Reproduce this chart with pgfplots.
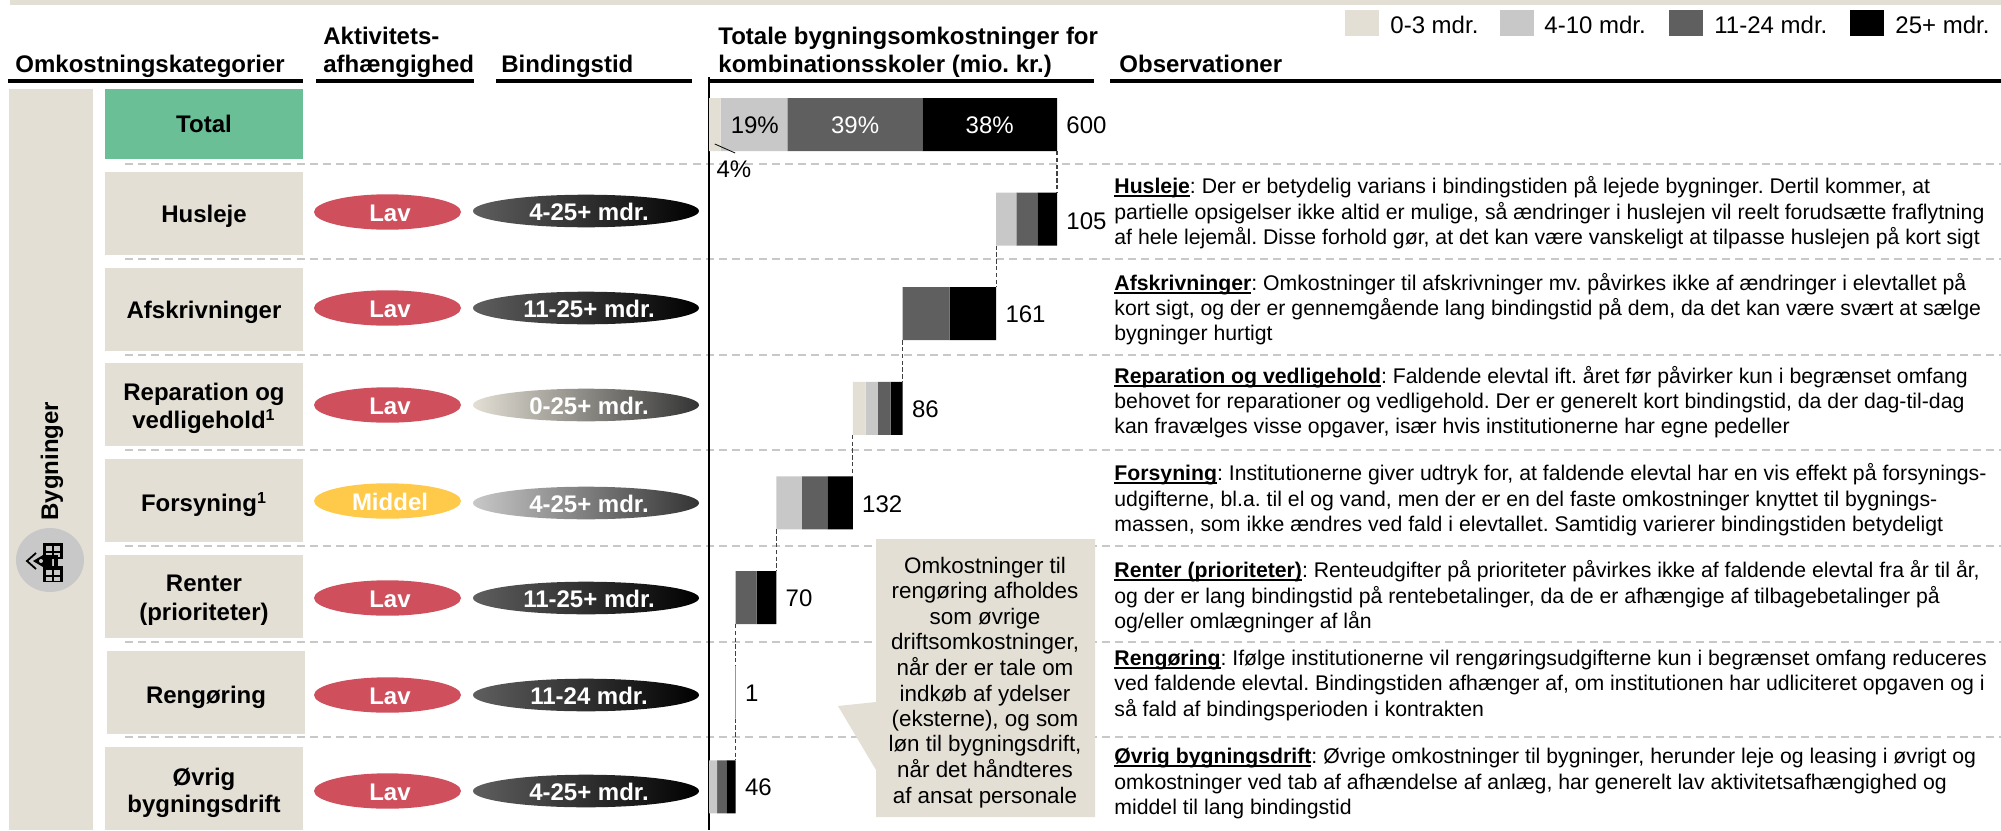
\documentclass[border=0pt]{standalone}
\usepackage{pgfplots}
\usepackage{pgfplotstable}
\pgfplotsset{compat=1.18}
\usepackage{fontspec}
\setmainfont{Liberation Sans}
\definecolor{beige}{HTML}{E3DFD4}
\definecolor{lgrey}{HTML}{C8C8C8}
\definecolor{dgrey}{HTML}{5F5F5F}
\definecolor{tgreen}{HTML}{6ABF96}
\definecolor{lav}{HTML}{CF4F5C}
\definecolor{middel}{HTML}{FFC94A}
\definecolor{dashg}{HTML}{C8C8C8}
\newcommand\fs[1]{\fontsize{#1}{#1}\selectfont}
\newcommand\ul[1]{\setbox0\hbox{#1}\rlap{\rule[-2.1pt]{\wd0}{1.1pt}}\box0}
\pgfplotstableread{
row off a b c d
0 0 20 115 233 232
1 495 0 35 36 34
2 334 0 0 81 80
3 248 22 21 22 21
4 116 0 44 44 44
5 46 0 0 36 34
6 45 0 0 1 0
7 0 0 14 16 16
}\costs
\begin{document}
\frenchspacing
\begin{tikzpicture}[x=0.5pt,y=-0.5pt,
  hdr/.style={anchor=base west,inner sep=0,font=\frenchspacing\fs{12}\bfseries},
  cat/.style={anchor=center,inner sep=0,align=center,font=\fs{12}\bfseries,text depth=0pt},
  pill/.style={anchor=center,inner sep=0,text=white,font=\fs{12}\bfseries},
  obs/.style={anchor=base west,inner sep=0,font=\frenchspacing\fs{10.62}},
  call/.style={anchor=base,inner sep=0,font=\fs{11.2}},
  legt/.style={anchor=base west,inner sep=0,font=\fs{12}}]
\useasboundingbox (0,0) rectangle (2001,830);
\coordinate (axpos) at (709,77);
% top strip
\fill[beige] (10,0) rectangle (2001,5);
% header rules
\foreach \a/\b in {8/303,316/474,496/692,709/1094,1110/2001}
  \fill[black] (\a,79) rectangle (\b,83);
% headers
\node[hdr] at (15,72) {Omkostningskategorier};
\node[hdr] at (323,44) {Aktivitets-};
\node[hdr] at (323,72) {afhængighed};
\node[hdr] at (501,72) {Bindingstid};
\node[hdr] at (718,44) {Totale bygningsomkostninger for};
\node[hdr] at (718,72) {kombinationsskoler (mio. kr.)};
\node[hdr] at (1119,72) {Observationer};
% legend
\fill[beige] (1345,10) rectangle (1379,36);
\node[legt] at (1390,33) {0-3 mdr.};
\fill[lgrey] (1500,10) rectangle (1534,36);
\node[legt] at (1544,33) {4-10 mdr.};
\fill[dgrey] (1669,10) rectangle (1703,36);
\node[legt] at (1714,33) {11-24 mdr.};
\fill[black] (1850,10) rectangle (1884,36);
\node[legt] at (1895,33) {25+ mdr.};
% left band
\fill[beige] (9,89) rectangle (93,830);
\node[rotate=90,anchor=center,inner sep=0,font=\fs{12}\bfseries] at (52,461) {Bygninger};
\fill[lgrey] (50,560) ellipse [x radius=34,y radius=32];
% icon
\fill[black] (43,543) rectangle (63,559);
\fill[black] (43,566) rectangle (63,582);
\foreach \xx in {46,54} \foreach \yy in {546,552.5,570,576.5}
  \fill[lgrey] (\xx,\yy) rectangle ++(6,4.5);
\fill[black] (33,561) -- (43,555) -- (52,555) -- (52,567) -- (43,567) -- cycle;
\fill[black] (54,555) rectangle (58,567);
\fill[lgrey] (41,561) circle [radius=2];
\draw[black,line width=0.9pt] (36,553) -- (27,561) -- (36,569);
% category boxes
\fill[tgreen] (105,89) rectangle (303,159);
\fill[beige] (105,172) rectangle (303,255);
\fill[beige] (105,268) rectangle (303,351);
\fill[beige] (105,363) rectangle (303,446);
\fill[beige] (105,459) rectangle (303,542);
\fill[beige] (105,555) rectangle (303,638);
\fill[beige] (107,651) rectangle (305,734);
\fill[beige] (105,747) rectangle (303,830);
\node[cat] at (204,124) {Total};
\node[cat] at (204,214) {Husleje};
\node[cat] at (204,310) {Afskrivninger};
\node[cat] at (204,392) {Reparation og};
\node[cat] at (204,419) {vedligehold\textsuperscript{1}};
\node[cat] at (204,502) {Forsyning\textsuperscript{1}};
\node[cat] at (204,583) {Renter};
\node[cat] at (204,612) {(prioriteter)};
\node[cat] at (206,695) {Rengøring};
\node[cat] at (204,777) {Øvrig};
\node[cat] at (204,804) {bygningsdrift};
% dashed separators
\foreach \yy in {164,259,355,450,546,642,737}
  \draw[dashg,line width=0.8pt,dash pattern=on 4pt off 2.6pt] (125,\yy) -- (2001,\yy);
% pills
\foreach \yy/\lbl/\cc in {212/Lav/lav,308/Lav/lav,405/Lav/lav,501/Middel/middel,598/Lav/lav,695/Lav/lav,791/Lav/lav}{
  \fill[\cc] (387.5,\yy) ellipse [x radius=73.5,y radius=17.7];
  \node[pill] at (390,\yy+1) {\lbl};
}
\foreach \yy/\lbl/\cl/\cr in {211/4-25+ mdr./dgrey/black,308/11-25+ mdr./dgrey/black,405/0-25+ mdr./beige/black!80,503/4-25+ mdr./lgrey/black!80,598/11-25+ mdr./dgrey/black,695/11-24 mdr./dgrey/black,791/4-25+ mdr./dgrey/black}{
  \shade[left color=\cl,right color=\cr] (586,\yy) ellipse [x radius=113,y radius=16.3];
  \node[pill] at (589,\yy+1) {\lbl};
}
% stacked waterfall bars
\begin{axis}[name=bars,at={(axpos)},anchor=north west,scale only axis,
  width=174pt,height=376.5pt,xmin=0,xmax=600,ymin=-0.502,ymax=7.457,y dir=reverse,
  xbar stacked,bar width=26.5pt,clip=false,
  axis x line=none,axis y line=left,axis line style={-,black,line width=1pt},
  xtick=\empty,ytick=\empty]
\addplot[draw=none,fill=none] table[x=off,y=row]{\costs};
\addplot[draw=none,fill=beige] table[x=a,y=row]{\costs};
\addplot[draw=none,fill=lgrey] table[x=b,y=row]{\costs};
\addplot[draw=none,fill=dgrey] table[x=c,y=row]{\costs};
\addplot[draw=none,fill=black] table[x=d,y=row]{\costs};
\end{axis}
% connectors and labels
\begin{axis}[at={(axpos)},anchor=north west,scale only axis,
  width=174pt,height=376.5pt,xmin=0,xmax=600,ymin=-0.502,ymax=7.457,y dir=reverse,
  clip=false,hide axis]
\foreach \xx/\yy in {600/0,495/1,334/2,248/3,116/4,46/5,45.5/6}{
  \edef\tmp{\noexpand\addplot[black!75,line width=0.55pt,dash pattern=on 2.2pt off 1.2pt,mark=none] coordinates {(\xx,\yy.28) (\xx,\yy.72)};}
  \tmp
}
\addplot[black,line width=0.4pt,mark=none] coordinates {(10,0.206) (45,0.301)};
\addplot[draw=none,mark=none,nodes near coords,point meta=explicit symbolic,
  nodes near coords style={anchor=west,inner sep=0,xshift=4.5pt,font=\fs{12},text=black}]
  coordinates {(600,0.005)[600] (600,1.02)[105] (495,2.01)[161] (334,3.01)[86] (248,4.01)[132] (116,5.01)[70] (46,6.01)[1] (46,7.01)[46]};
\addplot[draw=none,mark=none,nodes near coords,point meta=explicit symbolic,
  nodes near coords style={anchor=center,inner sep=0,font=\fs{12},text=black}]
  coordinates {(79,0.005)[19\%] (43,0.47)[4\%]};
\addplot[draw=none,mark=none,nodes near coords,point meta=explicit symbolic,
  nodes near coords style={anchor=center,inner sep=0,font=\fs{12},text=white}]
  coordinates {(252,0.005)[39\%] (484,0.005)[38\%]};
\end{axis}
% callout
\fill[beige] (876,539) -- (1095,539) -- (1095,817) -- (876,817) -- (876,770) -- (838,706) -- (876,702) -- cycle;
\node[call] at (985,573) {Omkostninger til};
\node[call] at (985,598) {rengøring afholdes};
\node[call] at (985,624) {som øvrige};
\node[call] at (985,649) {driftsomkostninger,};
\node[call] at (985,675) {når der er tale om};
\node[call] at (985,701) {indkøb af ydelser};
\node[call] at (985,726) {(eksterne), og som};
\node[call] at (985,751) {løn til bygningsdrift,};
\node[call] at (985,777) {når det håndteres};
\node[call] at (985,803) {af ansat personale};
% observations
\node[obs] at (1114,193) {\ul{\textbf{Husleje}}: Der er betydelig varians i bindingstiden på lejede bygninger. Dertil kommer, at};
\node[obs] at (1114,219) {partielle opsigelser ikke altid er mulige, så ændringer i huslejen vil reelt forudsætte fraflytning};
\node[obs] at (1114,244) {af hele lejemål. Disse forhold gør, at det kan være vanskeligt at tilpasse huslejen på kort sigt};
\node[obs] at (1114,290) {\ul{\textbf{Afskrivninger}}: Omkostninger til afskrivninger mv. påvirkes ikke af ændringer i elevtallet på};
\node[obs] at (1114,315) {kort sigt, og der er gennemgående lang bindingstid på dem, da det kan være svært at sælge};
\node[obs] at (1114,340) {bygninger hurtigt};
\node[obs] at (1114,383) {\ul{\textbf{Reparation og vedligehold}}: Faldende elevtal ift. året før påvirker kun i begrænset omfang};
\node[obs] at (1114,408) {behovet for reparationer og vedligehold. Der er generelt kort bindingstid, da der dag-til-dag};
\node[obs] at (1114,433) {kan fravælges visse opgaver, især hvis institutionerne har egne pedeller};
\node[obs] at (1114,480) {\ul{\textbf{Forsyning}}: Institutionerne giver udtryk for, at faldende elevtal har en vis effekt på forsynings-};
\node[obs] at (1114,506) {udgifterne, bl.a. til el og vand, men der er en del faste omkostninger knyttet til bygnings-};
\node[obs] at (1114,531) {massen, som ikke ændres ved fald i elevtallet. Samtidig varierer bindingstiden betydeligt};
\node[obs] at (1114,577) {\ul{\textbf{Renter (prioriteter)}}: Renteudgifter på prioriteter påvirkes ikke af faldende elevtal fra år til år,};
\node[obs] at (1114,603) {og der er lang bindingstid på rentebetalinger, da de er afhængige af tilbagebetalinger på};
\node[obs] at (1114,628) {og/eller omlægninger af lån};
\node[obs] at (1114,665) {\ul{\textbf{Rengøring}}: Ifølge institutionerne vil rengøringsudgifterne kun i begrænset omfang reduceres};
\node[obs] at (1114,690) {ved faldende elevtal. Bindingstiden afhænger af, om institutionen har udliciteret opgaven og i};
\node[obs] at (1114,716) {så fald af bindingsperioden i kontrakten};
\node[obs] at (1114,763) {\ul{\textbf{Øvrig bygningsdrift}}: Øvrige omkostninger til bygninger, herunder leje og leasing i øvrigt og};
\node[obs] at (1114,789) {omkostninger ved tab af afhændelse af anlæg, har generelt lav aktivitetsafhængighed og};
\node[obs] at (1114,814) {middel til lang bindingstid};
\end{tikzpicture}
\end{document}
